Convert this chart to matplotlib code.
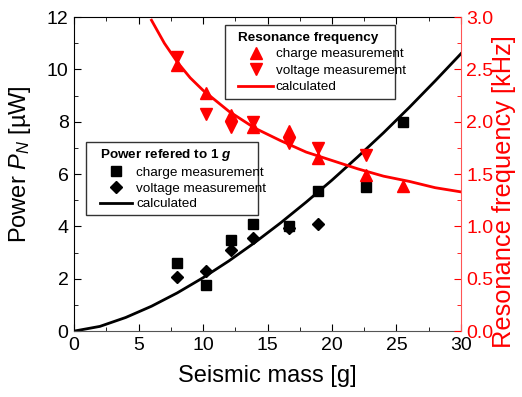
import matplotlib
matplotlib.use("Agg")
import matplotlib.pyplot as plt
from matplotlib.ticker import MultipleLocator
from matplotlib.patches import Rectangle

plt.rcParams['font.family'] = ['Liberation Sans', 'DejaVu Sans']
plt.rcParams['mathtext.fontset'] = 'custom'
plt.rcParams['mathtext.rm'] = 'Liberation Sans'
plt.rcParams['mathtext.it'] = 'Liberation Sans:italic'
plt.rcParams['mathtext.bf'] = 'Liberation Sans:bold'
plt.rcParams['mathtext.bfit'] = 'Liberation Sans:italic:bold'

# Power data (left axis, µW)
mass_charge = [8.0, 10.2, 12.2, 13.9, 16.7, 18.9, 22.6, 25.5]
power_charge = [2.6, 1.75, 3.5, 4.1, 4.0, 5.35, 5.5, 8.0]
mass_voltage = [8.0, 10.2, 12.2, 13.9, 16.7, 18.9]
power_voltage = [2.08, 2.28, 3.08, 3.56, 3.95, 4.08]
calc_mass_p = [0, 2, 4, 6, 8, 10, 12, 14, 16, 18, 20, 22, 24, 26, 28, 30]
calc_power = [0, 0.18, 0.52, 0.95, 1.46, 2.04, 2.68, 3.38, 4.13, 4.93, 5.77,
              6.66, 7.58, 8.55, 9.56, 10.6]

# Resonance frequency data (right axis, kHz)
freq_charge = [2.54, 2.27, 2.06, 1.95, 1.91, 1.65, 1.49, 1.39]
mass_fvolt = [8.0, 10.2, 12.2, 13.9, 16.7, 18.9, 22.6]
freq_voltage = [2.62, 2.07, 1.95, 2.0, 1.80, 1.75, 1.68]
calc_mass_f = [6, 7, 8, 9, 10, 12, 14, 16, 18, 20, 22, 24, 26, 28, 30]
calc_freq = [2.97, 2.75, 2.57, 2.42, 2.30, 2.10, 1.94, 1.82, 1.71, 1.63,
             1.55, 1.48, 1.43, 1.37, 1.33]

RED = '#ff0000'
W, H = 522, 397

fig = plt.figure(figsize=(W / 100, H / 100), dpi=100)
ax = fig.add_axes([0.142, 0.166, 0.741, 0.791])
ax2 = ax.twinx()

l_pc, = ax.plot(mass_charge, power_charge, 's', color='black', ms=6.5, ls='none',
                label='charge measurement')
l_pv, = ax.plot(mass_voltage, power_voltage, 'D', color='black', ms=6.5, ls='none',
                label='voltage measurement')
l_pcalc, = ax.plot(calc_mass_p, calc_power, '-', color='black', lw=2,
                   label='calculated')

l_fc, = ax2.plot(mass_charge, freq_charge, '^', color=RED, ms=8.5, ls='none',
                 label='charge measurement')
l_fv, = ax2.plot(mass_fvolt, freq_voltage, 'v', color=RED, ms=8.5, ls='none',
                 label='voltage measurement')
l_fcalc, = ax2.plot(calc_mass_f, calc_freq, '-', color=RED, lw=2,
                    label='calculated')

ax.set_xlim(0, 30)
ax.set_ylim(0, 12)
ax2.set_ylim(0, 3.0)

ax.xaxis.set_major_locator(MultipleLocator(5))
ax.xaxis.set_minor_locator(MultipleLocator(2.5))
ax.yaxis.set_major_locator(MultipleLocator(2))
ax.yaxis.set_minor_locator(MultipleLocator(1))
ax2.yaxis.set_major_locator(MultipleLocator(0.5))
ax2.yaxis.set_minor_locator(MultipleLocator(0.25))
ax2.yaxis.set_major_formatter(plt.FuncFormatter(lambda v, p: f"{v:.1f}"))

ax.tick_params(axis='x', which='both', direction='in', top=True, labelsize=14,
               pad=4)
ax.tick_params(axis='x', which='major', length=5)
ax.tick_params(axis='x', which='minor', length=3)
ax.tick_params(axis='y', which='both', direction='in', labelsize=14, pad=4)
ax.tick_params(axis='y', which='major', length=5)
ax.tick_params(axis='y', which='minor', length=3)
ax2.tick_params(axis='y', which='both', direction='in', colors=RED,
                labelsize=14, pad=4)
ax2.tick_params(axis='y', which='major', length=5)
ax2.tick_params(axis='y', which='minor', length=3)

for s in ['left', 'top']:
    ax.spines[s].set_color('black')
ax.spines['bottom'].set_color('#555555')
ax2.spines['right'].set_color('#ff5555')
ax2.spines['left'].set_visible(False)
ax2.spines['top'].set_visible(False)
ax2.spines['bottom'].set_visible(False)
ax.spines['right'].set_visible(False)

ax.set_xlabel('Seismic mass [g]', fontsize=17, labelpad=8)
ax.set_ylabel('Power $P_N$ [µW]', fontsize=17)
ax.yaxis.set_label_coords(-0.106, 0.532)
ax2.set_ylabel('Resonance frequency [kHz]', fontsize=18.3, color=RED)
ax2.yaxis.set_label_coords(1.081, 0.443)

leg_kw = dict(fontsize=9.7, frameon=False, alignment='left',
              borderpad=0, borderaxespad=0, labelspacing=0.3,
              title_fontproperties={'weight': 'bold', 'size': 9.7},
              loc='upper left', bbox_transform=fig.transFigure)

leg2 = ax2.legend(handles=[l_fc, l_fv, l_fcalc], title='Resonance frequency',
                  bbox_to_anchor=(238 / W, 1 - 32 / H),
                  handlelength=2.6, handletextpad=0.2, **leg_kw)

leg1 = ax.legend(handles=[l_pc, l_pv, l_pcalc],
                 title=r'Power refered to 1 $\mathbfit{g}$',
                 bbox_to_anchor=(100 / W, 1 - 147 / H),
                 handlelength=2.37, handletextpad=0.3,
                 **{**leg_kw, 'labelspacing': 0.25})

# legend frames
for (x0, y0, x1, y1), zax in [((225, 25, 395, 99), ax2), ((86, 142, 258, 215), ax)]:
    r = Rectangle((x0 / W, 1 - y1 / H), (x1 - x0) / W, (y1 - y0) / H,
                  transform=fig.transFigure, facecolor='white',
                  edgecolor='#333333', lw=1.0, zorder=4.5)
    zax.add_artist(r)

fig.savefig('out.png', dpi=100)
